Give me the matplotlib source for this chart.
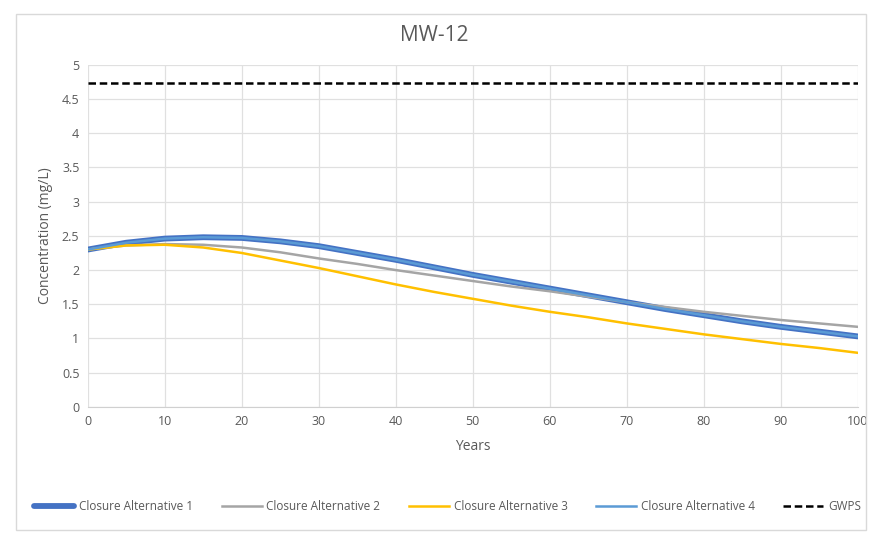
import numpy as np
from matplotlib import pyplot as plt
from matplotlib.patches import Rectangle

years = [0, 5, 10, 15, 20, 25, 30, 35, 40, 45, 50, 55, 60, 65, 70, 75, 80, 85, 90, 95, 100]
alt1 = [2.30, 2.40, 2.46, 2.48, 2.47, 2.42, 2.35, 2.25, 2.15, 2.04, 1.93, 1.83, 1.73, 1.63, 1.53, 1.43, 1.34, 1.25, 1.17, 1.10, 1.03]
alt2 = [2.30, 2.36, 2.38, 2.37, 2.33, 2.26, 2.17, 2.09, 2.00, 1.92, 1.84, 1.76, 1.69, 1.61, 1.53, 1.46, 1.39, 1.33, 1.27, 1.22, 1.17]
alt3 = [2.30, 2.36, 2.37, 2.33, 2.25, 2.14, 2.03, 1.91, 1.79, 1.68, 1.58, 1.48, 1.39, 1.31, 1.22, 1.14, 1.06, 0.99, 0.92, 0.86, 0.79]
alt4 = [2.30, 2.40, 2.46, 2.48, 2.47, 2.42, 2.35, 2.25, 2.15, 2.04, 1.93, 1.83, 1.73, 1.63, 1.53, 1.43, 1.34, 1.25, 1.17, 1.10, 1.03]
gwps = 4.73
xticks = list(range(0, 101, 10))
yticks = [0, 0.5, 1, 1.5, 2, 2.5, 3, 3.5, 4, 4.5, 5]
ytick_labels = ['0', '0.5', '1', '1.5', '2', '2.5', '3', '3.5', '4', '4.5', '5']

plt.rcParams['font.family'] = ['Open Sans', 'DejaVu Sans']

fig = plt.figure(figsize=(8.69, 5.41), dpi=100)
fig.patches.append(Rectangle((0.018, 0.02), 0.978, 0.955, transform=fig.transFigure,
                             fill=False, edgecolor='#d9d9d9', linewidth=1))
ax = fig.add_axes([0.101, 0.248, 0.886, 0.632])

ax.plot(years, alt1, color='#4472c4', lw=4.2, label='Closure Alternative 1', solid_capstyle='round')
ax.plot(years, alt2, color='#a5a5a5', lw=1.8, label='Closure Alternative 2')
ax.plot(years, alt3, color='#ffc000', lw=1.8, label='Closure Alternative 3')
ax.plot(years, alt4, color='#5b9bd5', lw=1.8, label='Closure Alternative 4')
ax.plot([years[0], years[-1]], [gwps, gwps], color='black', lw=1.8, ls=(0, (3, 1.5)), label='GWPS')

ax.set_xlim(0, 100)
ax.set_ylim(0, 5)
ax.set_xticks(xticks)
ax.set_yticks(yticks)
ax.set_yticklabels(ytick_labels)
ax.grid(True, color='#e0e0e0', lw=0.9)
ax.set_axisbelow(True)
for s in ['top', 'right', 'left']:
    ax.spines[s].set_visible(False)
ax.spines['bottom'].set_color('#d0d0d0')
ax.tick_params(length=0, labelsize=9, colors='#595959', pad=6)

ax.set_xlabel('Years', fontsize=10, color='#595959', labelpad=8)
ax.set_ylabel('Concentration (mg/L)', fontsize=10, color='#595959', labelpad=6)
fig.text(0.5, 0.935, 'MW-12', ha='center', va='center', fontsize=15, color='#595959')

fig.legend(loc='center', bbox_to_anchor=(0.515, 0.063), ncol=5, frameon=False,
           fontsize=8.5, handlelength=3.4, columnspacing=2.4, handletextpad=0.4,
           labelcolor='#595959')

fig.savefig('out.png', dpi=100)
